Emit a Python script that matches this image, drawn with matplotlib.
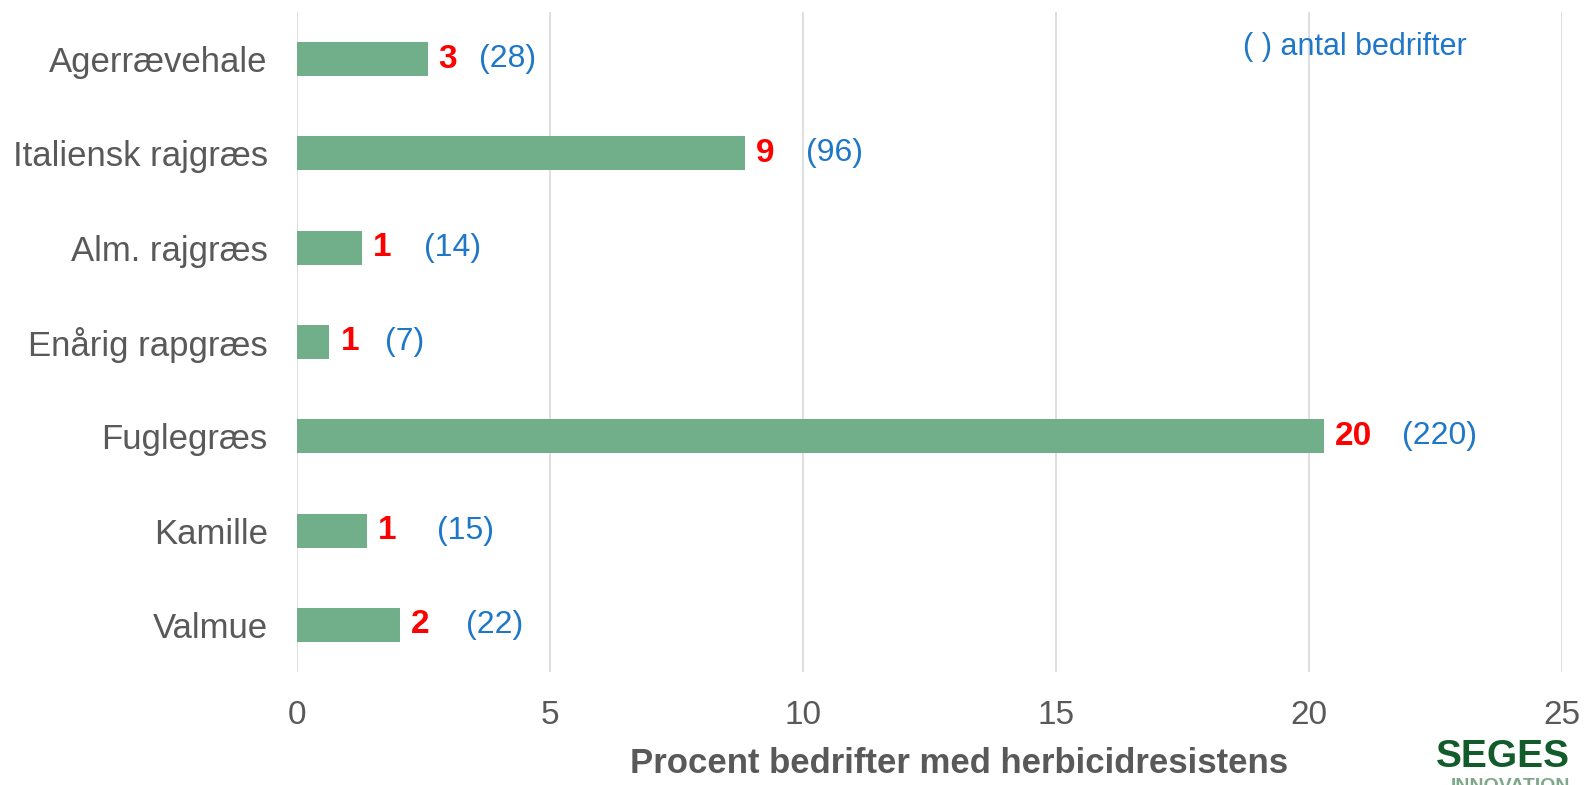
import matplotlib
matplotlib.use("Agg")
import matplotlib.pyplot as plt
import numpy as np

# Data
weeds = ["Agerrævehale", "Italiensk rajgræs", "Alm. rajgræs", "Enårig rapgræs",
         "Fuglegræs", "Kamille", "Valmue"]
percent = [2.58, 8.86, 1.28, 0.64, 20.3, 1.38, 2.04]
percent_labels = ["3", "9", "1", "1", "20", "1", "2"]
farm_counts = ["(28)", "(96)", "(14)", "(7)", "(220)", "(15)", "(22)"]
x_ticks = [0, 5, 10, 15, 20, 25]

# offsets (pixels) of the count label from the bar end
count_offsets = [51, 61, 62, 56, 78, 70, 66]

GREEN = "#71AE8A"
GREY = "#595959"
BLUE = "#1F77C8"
RED = "#FF0000"

plt.rcParams["font.family"] = ["Liberation Sans", "DejaVu Sans"]

fig = plt.figure(figsize=(15.85, 7.85), dpi=100)
fig.patch.set_facecolor("white")
ax = fig.add_axes([0.1874, 0.144, 0.798, 0.8407])

y_pos = np.arange(len(weeds))
bars = ax.barh(y_pos, percent, height=0.36, color=GREEN, zorder=3)

ax.set_ylim(len(weeds) - 0.5, -0.5)
ax.set_xlim(0, 25)
ax.set_xticks(x_ticks)
ax.set_xticklabels([str(t) for t in x_ticks], fontsize=24, color=GREY)
ax.set_yticks(y_pos)
ax.set_yticklabels(weeds, fontsize=25, color=GREY)
ax.tick_params(axis="both", length=0)
ax.tick_params(axis="y", pad=21)
ax.tick_params(axis="x", pad=20)
ax.grid(axis="x", color="#D9D9D9", linewidth=1.2, zorder=0)
for spine in ax.spines.values():
    spine.set_visible(False)

for bar, lab, cnt, off in zip(bars, percent_labels, farm_counts, count_offsets):
    w = bar.get_width()
    yc = bar.get_y() + bar.get_height() / 2
    ax.annotate(lab, (w, yc), xytext=(11, 0), textcoords="offset pixels",
                ha="left", va="center", fontsize=24, fontweight="bold", color=RED)
    ax.annotate(cnt, (w, yc), xytext=(off, 0), textcoords="offset pixels",
                ha="left", va="center", fontsize=23, color=BLUE)

ax.text(0.836, 0.947, "( ) antal bedrifter", transform=ax.transAxes,
        ha="center", va="center", fontsize=22, color=BLUE)

fig.text(0.605, 0.027, "Procent bedrifter med herbicidresistens", ha="center",
         va="center", fontsize=25, fontweight="bold", color=GREY)

# logo
fig.text(0.9905, 0.036, "SEGES", ha="right", va="center", fontsize=28,
         fontweight="bold", color="#125C2C")
fig.text(0.9905, -0.002, "INNOVATION", ha="right", va="center", fontsize=14,
         fontweight="bold", color="#7FA88A")

fig.savefig("out.png", dpi=100, facecolor="white")
